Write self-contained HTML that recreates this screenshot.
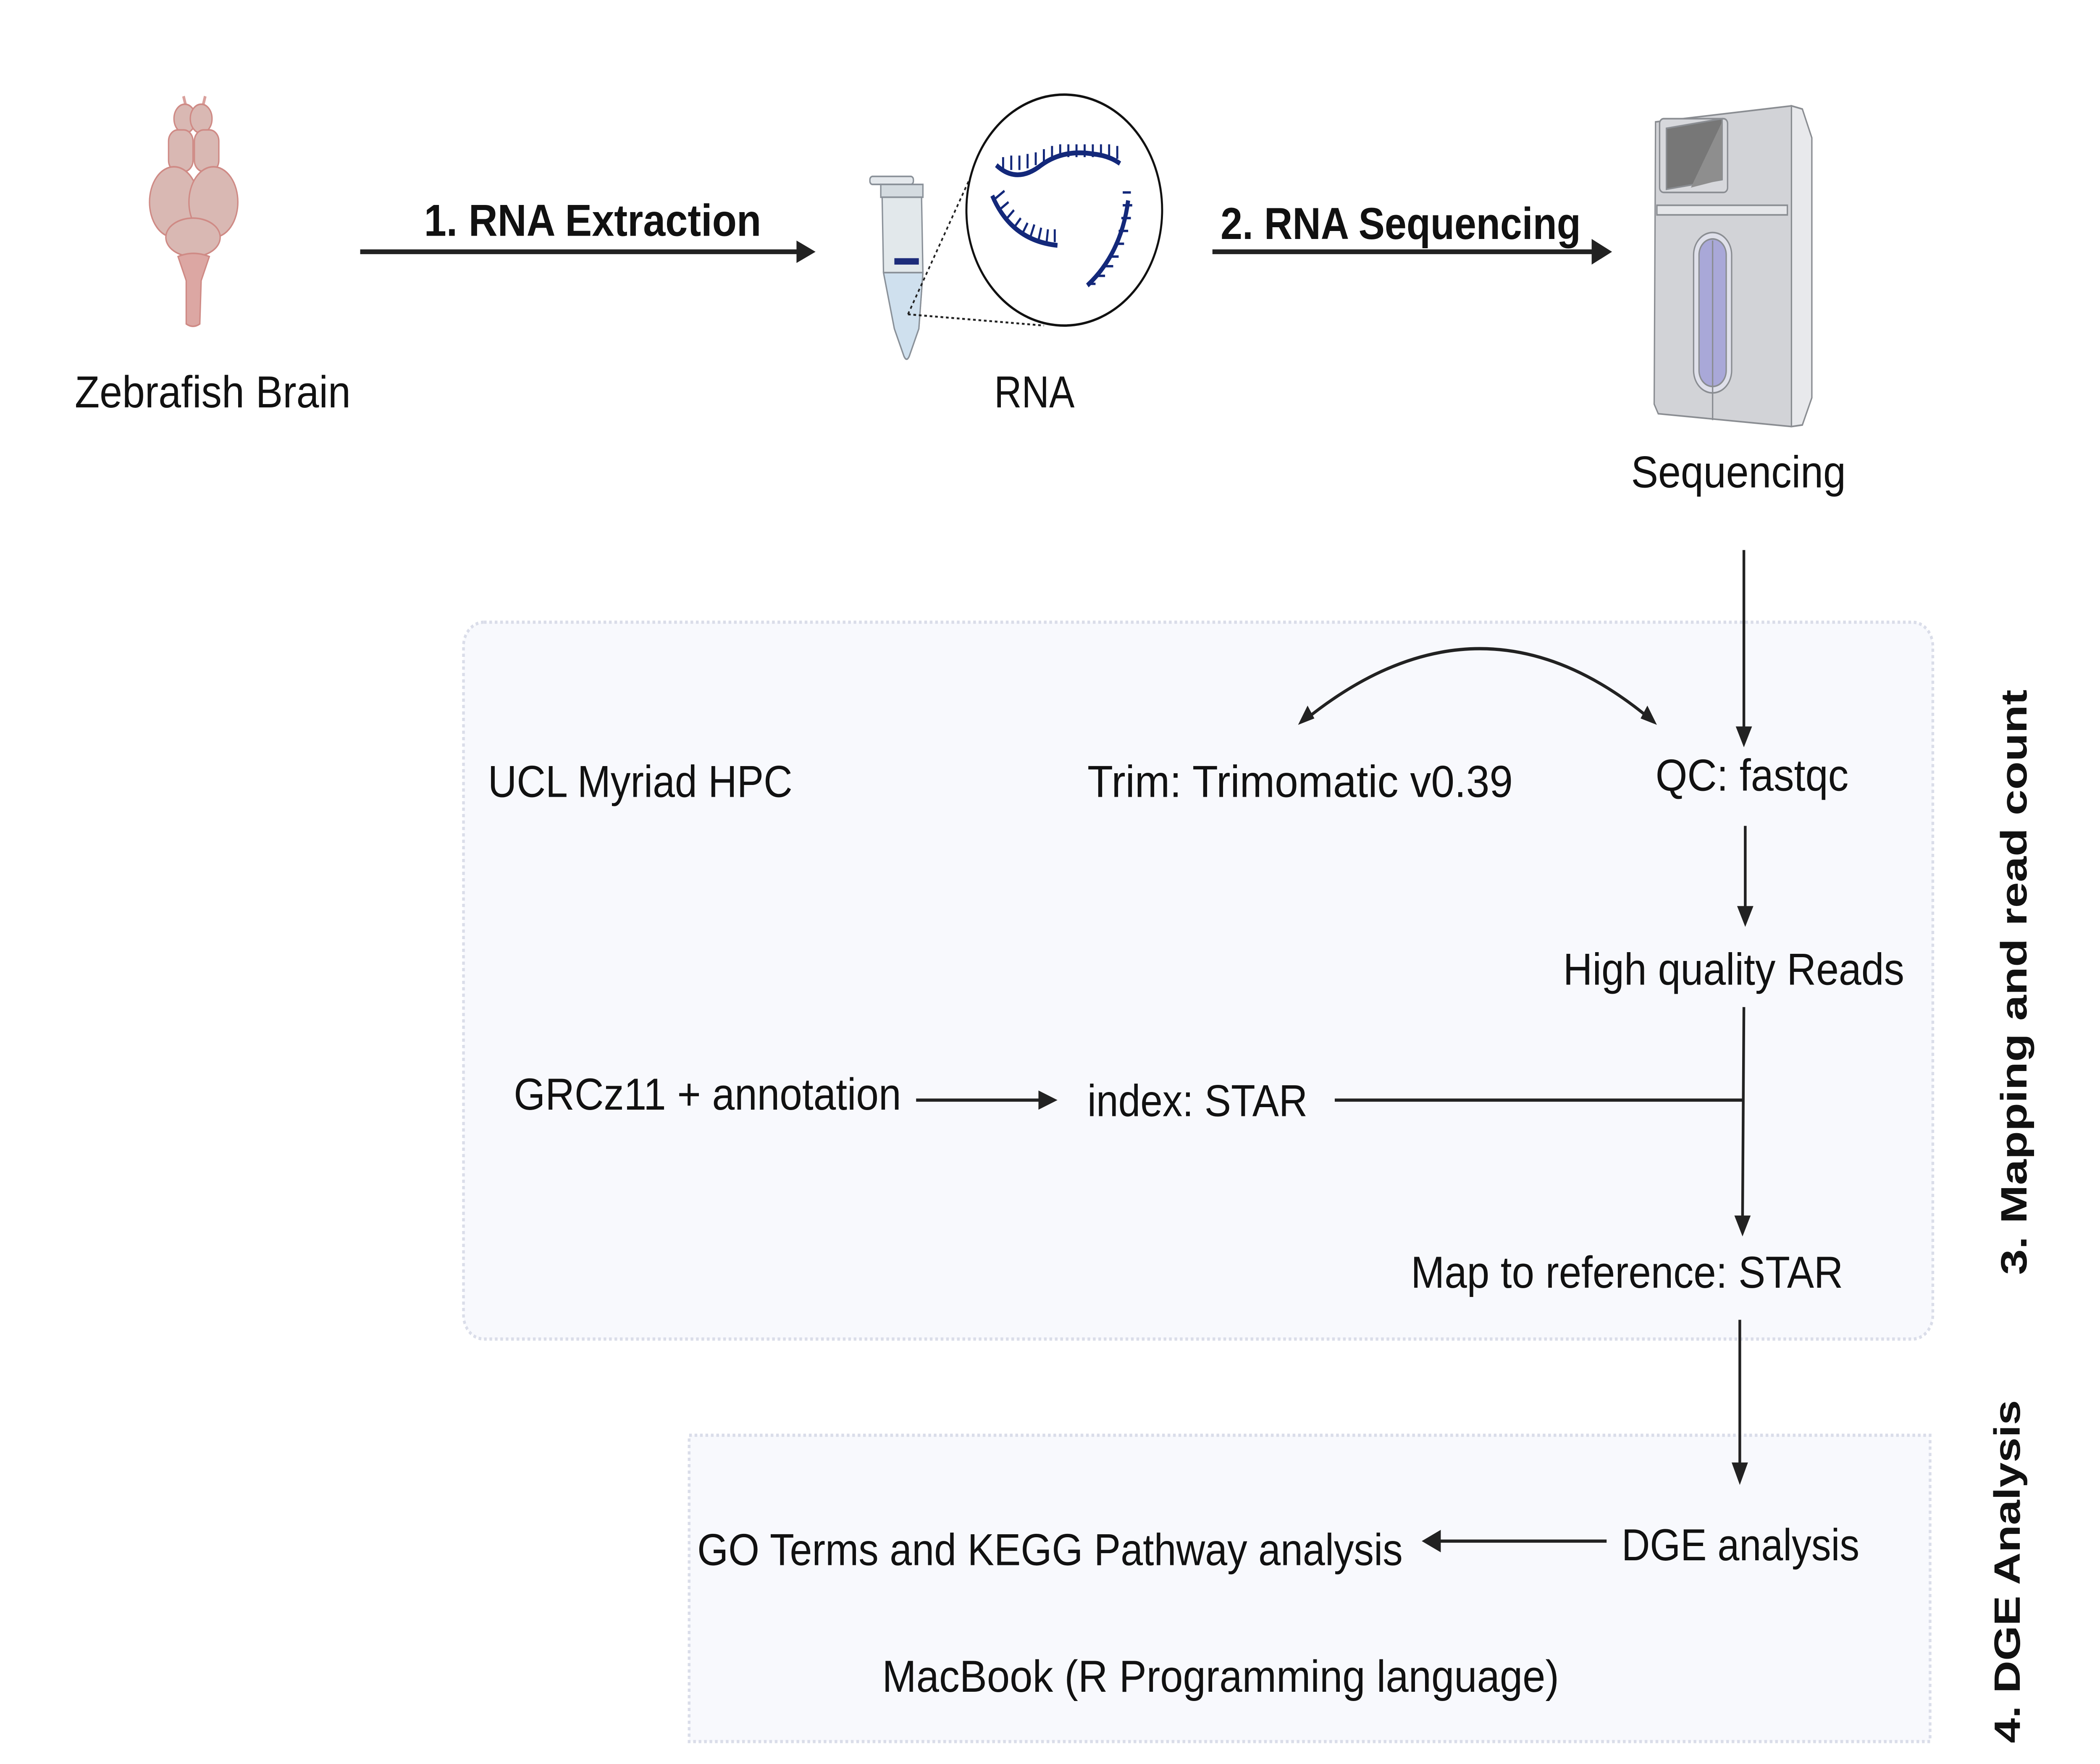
<!DOCTYPE html>
<html><head><meta charset="utf-8"><style>
html,body{margin:0;padding:0;background:#fff;width:100%;height:100%;overflow:hidden;}
svg{display:block;position:fixed;left:0;top:0;width:100vw;height:100vh;}
text{font-family:"Liberation Sans",sans-serif;fill:#111;}
</style></head><body>
<svg viewBox="0 0 1545 1100" preserveAspectRatio="none" xmlns="http://www.w3.org/2000/svg">
<rect width="1545" height="1100" fill="#fff"/>

<!-- Brain -->
<g fill="#d9b8b3" stroke="#cf8a85" stroke-width="1">
  <path d="M137 67 L135 60 M149 67 L151 60" stroke="#d9a09c" stroke-width="2"/>
  <ellipse cx="136" cy="74" rx="8" ry="9"/><ellipse cx="148" cy="74" rx="8" ry="9"/>
  <rect x="124" y="81" width="18" height="26" rx="7"/><rect x="143" y="81" width="18" height="26" rx="7"/>
  <ellipse cx="128" cy="126" rx="18" ry="22"/><ellipse cx="157" cy="126" rx="18" ry="22"/>
  <ellipse cx="142" cy="148" rx="20" ry="12"/>
  <path d="M131 160 Q142 156 154 160 L148 175 L147 202 Q142 205 137 202 L137 175 Z" fill="#dca7a3"/>
</g>

<!-- Arrow 1 -->
<line x1="265" y1="157" x2="588" y2="157" stroke="#222" stroke-width="3"/>
<polygon points="586,150 600,157 586,164" fill="#222"/>
<text x="312" y="147" font-size="28" font-weight="bold" textLength="248" lengthAdjust="spacingAndGlyphs">1.  RNA Extraction</text>

<!-- Tube -->
<g stroke="#8a9199" stroke-width="1">
  <rect x="640" y="110" width="32" height="5" rx="2" fill="#e4e8ec"/>
  <rect x="648" y="115" width="31" height="8" fill="#d4dbe0"/>
  <path d="M649 123 L678 123 L679 170 L676 205 L669 222 Q667 226 665 222 L658 205 L650 170 Z" fill="#e2e8eb"/>
  <path d="M650 170 L679 170 L676 205 L669 222 Q667 226 665 222 L658 205 Z" fill="#cfe0ee"/>
  <rect x="658" y="161" width="18" height="4" fill="#1d2c7a" stroke="none"/>
</g>
<line x1="668" y1="196" x2="718" y2="103" stroke="#222" stroke-width="1.2" stroke-dasharray="2,2"/>
<line x1="668" y1="196" x2="768" y2="203" stroke="#222" stroke-width="1.2" stroke-dasharray="2,2"/>
<circle cx="783" cy="131" r="72" fill="#fff" stroke="#111" stroke-width="1.5"/>
<g stroke="#13287a" stroke-width="3" fill="none">
  <path d="M733 103 Q748 115 766 103 Q782 93 804 96 Q816 97 824 102"/>
  <path d="M730 122 Q744 150 778 153"/>
  <path d="M830 125 Q825 158 800 178"/>
</g>
<g stroke="#13287a" stroke-width="1.5">
  <path d="M738 98v8 M744 97v9 M750 97v9 M756 96v9 M762 95v8 M768 93v8 M774 91v8 M780 90v8 M786 90v8 M792 90v8 M798 90v8 M804 90v8 M810 90v8 M816 90v9 M822 91v8"/>
  <path d="M732 124l7-5 M735 131l7-5 M740 137l6-6 M746 142l5-6 M752 146l4-7 M758 148l3-8 M764 150l2-8 M770 151l1-8 M776 151v-8"/>
  <path d="M826 120h6 M826 128h7 M825 136h7 M823 144h7 M820 152h7 M816 160h7 M812 166h7 M806 172h7 M800 177h6"/>
</g>
<text x="761" y="254" font-size="28" text-anchor="middle">RNA</text>
<text x="55" y="254" font-size="28" textLength="203" lengthAdjust="spacingAndGlyphs">Zebrafish Brain</text>

<!-- Arrow 2 -->
<line x1="892" y1="157" x2="1173" y2="157" stroke="#222" stroke-width="3"/>
<polygon points="1171,149 1186,157 1171,165" fill="#222"/>
<text x="898" y="149" font-size="28" font-weight="bold" textLength="265" lengthAdjust="spacingAndGlyphs">2. RNA Sequencing</text>

<!-- Sequencer -->
<g stroke="#8a8d92" stroke-width="1">
  <path d="M1218 76 L1318 66 L1326 68 L1333 86 L1333 248 L1326 265 L1318 266 L1220 258 L1217 252 Z" fill="#d2d3d7"/>
  <path d="M1318 66 L1326 68 L1333 86 L1333 248 L1326 265 L1318 266 Z" fill="#e8e9ec"/>
  <rect x="1221" y="74" width="50" height="46" rx="3" fill="#d7d8dc"/>
  <path d="M1226 80 L1267 74 L1267 112 L1226 118 Z" fill="#777"/>
  <path d="M1244 117 L1267 76 L1267 112 Z" fill="#8e8e8e" stroke="none"/>
  <rect x="1219" y="128" width="96" height="6" fill="#e5e6e9"/>
  <rect x="1246" y="145" width="28" height="100" rx="14" fill="#dfe0ea"/>
  <rect x="1250" y="149" width="20" height="92" rx="10" fill="#a9a8d8"/>
  <line x1="1260" y1="150" x2="1260" y2="262"/>
</g>
<text x="1200" y="304" font-size="28" textLength="158" lengthAdjust="spacingAndGlyphs">Sequencing</text>

<!-- Box 1 -->
<rect x="341" y="388" width="1081" height="447" rx="15" fill="#f8f9fd" stroke="#dadde9" stroke-width="2" stroke-dasharray="2,2"/>
<!-- Box 2 -->
<rect x="507" y="895" width="913" height="191" fill="#f8f9fd" stroke="#dadde9" stroke-width="2" stroke-dasharray="2,2"/>

<line x1="1283" y1="343" x2="1283" y2="455" stroke="#222" stroke-width="2"/>
<polygon points="1277,453 1283,466 1289,453" fill="#222"/>
<path d="M960 449 Q1090 360 1215 449" fill="none" stroke="#222" stroke-width="2"/>
<polygon points="955,452 962,440 967,448" fill="#222"/>
<polygon points="1219,452 1212,440 1207,448" fill="#222"/>
<text x="359" y="497" font-size="28" textLength="224" lengthAdjust="spacingAndGlyphs">UCL Myriad HPC</text>
<text x="800" y="497" font-size="28" textLength="313" lengthAdjust="spacingAndGlyphs">Trim: Trimomatic v0.39</text>
<text x="1218" y="493" font-size="28" textLength="142" lengthAdjust="spacingAndGlyphs">QC: fastqc</text>
<line x1="1284" y1="515" x2="1284" y2="567" stroke="#222" stroke-width="2"/>
<polygon points="1278,565 1284,578 1290,565" fill="#222"/>
<text x="1150" y="614" font-size="28" textLength="251" lengthAdjust="spacingAndGlyphs">High quality Reads</text>
<path d="M1283 628 L1282 760" fill="none" stroke="#222" stroke-width="2"/>
<polygon points="1276,758 1282,771 1288,758" fill="#222"/>
<text x="378" y="692" font-size="28" textLength="285" lengthAdjust="spacingAndGlyphs">GRCz11 + annotation</text>
<line x1="674" y1="686" x2="766" y2="686" stroke="#222" stroke-width="2"/>
<polygon points="764,680 778,686 764,692" fill="#222"/>
<text x="800" y="696" font-size="28" textLength="162" lengthAdjust="spacingAndGlyphs">index: STAR</text>
<line x1="982" y1="686" x2="1282" y2="686" stroke="#222" stroke-width="2"/>
<text x="1038" y="803" font-size="28" textLength="318" lengthAdjust="spacingAndGlyphs">Map to reference: STAR</text>
<line x1="1280" y1="823" x2="1280" y2="914" stroke="#222" stroke-width="2"/>
<polygon points="1274,912 1280,926 1286,912" fill="#222"/>

<text x="1193" y="973" font-size="28" textLength="175" lengthAdjust="spacingAndGlyphs">DGE analysis</text>
<line x1="1182" y1="961" x2="1058" y2="961" stroke="#222" stroke-width="2"/>
<polygon points="1060,954 1046,961 1060,968" fill="#222"/>
<text x="513" y="976" font-size="28" textLength="519" lengthAdjust="spacingAndGlyphs">GO Terms and KEGG Pathway analysis</text>
<text x="649" y="1055" font-size="28" textLength="498" lengthAdjust="spacingAndGlyphs">MacBook (R Programming language)</text>

<!-- Side labels -->
<text transform="translate(1491,795) rotate(-90)" font-size="27" font-weight="bold" textLength="365" lengthAdjust="spacingAndGlyphs">3. Mapping and read count</text>
<text transform="translate(1486,1087) rotate(-90)" font-size="27" font-weight="bold" textLength="214" lengthAdjust="spacingAndGlyphs">4. DGE Analysis</text>
</svg>
</body></html>
